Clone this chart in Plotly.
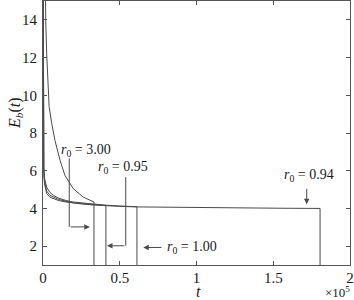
import plotly.graph_objects as go

# ---- data (t in units of seconds, x10^5 on axis) ----
t_300 = [500, 1000, 1300, 1800, 2400, 3100, 4000, 5700, 7800, 11100, 14300, 19700, 26200, 33200, 33200]
E_300 = [22.0, 17.0, 15.0, 13.9, 12.2, 10.6, 9.4, 8.5, 7.6, 6.55, 5.75, 5.05, 4.6, 4.34, 0.0]

t_100 = [50, 200, 500, 1000, 2400, 4500, 6700, 10000, 15000, 19700, 26000, 33000, 41000, 50000, 61200, 61200]
E_100 = [20.0, 8.5, 6.2, 5.6, 5.12, 4.85, 4.7, 4.55, 4.42, 4.34, 4.28, 4.22, 4.17, 4.13, 4.09, 0.0]

t_095 = [50, 200, 500, 1000, 2400, 4500, 6700, 10000, 15000, 19700, 26000, 33000, 41000, 41000]
E_095 = [20.0, 8.2, 6.0, 5.45, 4.92, 4.7, 4.6, 4.48, 4.38, 4.3, 4.25, 4.2, 4.16, 0.0]

t_094 = [50, 200, 500, 1000, 2400, 4500, 6700, 10000, 15000, 19700, 26000, 33000, 41000, 50000,
         61200, 80000, 100000, 130000, 155000, 180500, 180500]
E_094 = [20.0, 8.0, 5.8, 5.3, 4.79, 4.6, 4.52, 4.42, 4.34, 4.28, 4.23, 4.18, 4.14, 4.11,
         4.08, 4.06, 4.04, 4.02, 4.01, 4.0, 0.0]

x_tickvals = [0, 50000, 100000, 150000, 200000]
x_ticktext = ["0", "0.5", "1", "1.5", "2"]
y_tickvals = [2, 4, 6, 8, 10, 12, 14]

labels = ["3.00", "0.95", "1.00", "0.94"]

LINE = "#4a4a4a"
AX = "#555555"
FONT = "Liberation Serif"
TXT = "#1a1a1a"

fig = go.Figure()
for tt, ee in [(t_300, E_300), (t_100, E_100), (t_095, E_095), (t_094, E_094)]:
    fig.add_trace(go.Scatter(x=tt, y=ee, mode="lines",
                             line=dict(color=LINE, width=1), showlegend=False,
                             hoverinfo="skip"))

def lab(s):
    return "<i>r</i><sub>0</sub> = " + s

ann = []
afont = dict(family=FONT, size=14, color=TXT)
arr = dict(showarrow=True, arrowhead=2, arrowsize=1.1, arrowwidth=1, arrowcolor=LINE,
           axref="x", ayref="y", text="")
# r0 = 3.00
ann.append(dict(x=28000, y=7.07, text=lab(labels[0]), showarrow=False, font=afont))
ann.append(dict(x=t_300[-1] - 2700, y=3.02, ax=17100, ay=3.02, **arr))
# r0 = 0.95
ann.append(dict(x=51900, y=6.19, text=lab(labels[1]), showarrow=False, font=afont))
ann.append(dict(x=t_095[-1] + 700, y=2.02, ax=53900, ay=2.02, **arr))
# r0 = 1.00
ann.append(dict(x=79500, y=1.93, text=lab(labels[2]), showarrow=False, xanchor="left", font=afont))
ann.append(dict(x=65300, y=1.93, ax=78200, ay=1.93, **arr))
# r0 = 0.94
ann.append(dict(x=173300, y=5.75, text=lab(labels[3]), showarrow=False, font=afont))
ann.append(dict(x=171800, y=4.22, ax=171800, ay=5.12, **arr))
# axis titles and multiplier
tfont = dict(family=FONT, size=16, color=TXT)
ann.append(dict(x=0.505, y=-0.1, xref="paper", yref="paper", xanchor="center", yanchor="middle",
                text="<i>t</i>", showarrow=False, font=tfont))
ann.append(dict(x=-0.088, y=0.576, xref="paper", yref="paper", xanchor="center", yanchor="middle",
                textangle=-90, text="<i>E</i><sub><i>b</i></sub>(<i>t</i>)", showarrow=False, font=tfont))
ann.append(dict(x=1.008, y=-0.104, xref="paper", yref="paper", xanchor="right", yanchor="middle",
                text="×10<sup>5</sup>", showarrow=False, font=dict(family=FONT, size=13, color=TXT)))

shapes = [
    dict(type="line", x0=17100, x1=17100, y0=6.65, y1=3.02, line=dict(color=LINE, width=1)),
    dict(type="line", x0=53900, x1=53900, y0=5.66, y1=2.02, line=dict(color=LINE, width=1)),
]

fig.update_layout(
    width=354, height=300,
    margin=dict(l=43, r=4, t=1, b=35),
    paper_bgcolor="white", plot_bgcolor="white",
    font=dict(family=FONT, size=15, color=TXT),
    annotations=ann, shapes=shapes,
    xaxis=dict(range=[0, 200000], tickvals=x_tickvals, ticktext=x_ticktext, automargin=False,
               ticks="inside", ticklen=4, tickcolor=AX, showline=True, linecolor=AX,
               linewidth=1, mirror="allticks", showgrid=False, zeroline=False,
               ticklabelstandoff=-1,
               tickfont=dict(family=FONT, size=15, color=TXT)),
    yaxis=dict(range=[1, 15], tickvals=y_tickvals, automargin=False,
               ticks="inside", ticklen=4, tickcolor=AX, showline=True, linecolor=AX,
               linewidth=1, mirror="allticks", showgrid=False, zeroline=False,
               ticklabelstandoff=2,
               tickfont=dict(family=FONT, size=15, color=TXT)),
)

fig.write_html("out.html", config={"displayModeBar": False, "staticPlot": True},
               post_script="document.body.style.margin='0';document.body.style.overflow='hidden';")
